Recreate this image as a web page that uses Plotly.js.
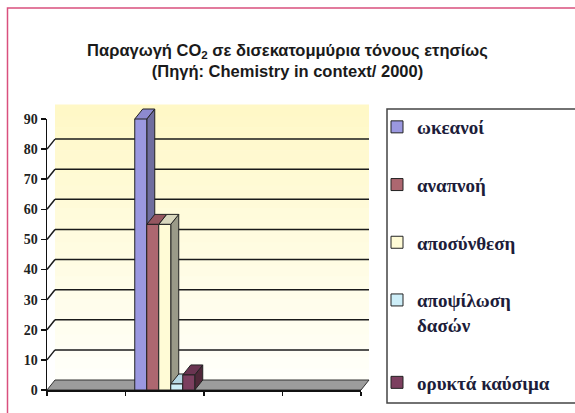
<!DOCTYPE html>
<html>
<head>
<meta charset="utf-8">
<script src="https://cdn.plot.ly/plotly-3.0.1.min.js"></script>
<style>
html,body{margin:0;padding:0;background:#fff;}
#chart{width:575px;height:413px;}
</style>
</head>
<body>
<div id="chart"></div>
<script>
// ---- data ----
const categories = ['A', 'B', 'C', 'D'];
const dataCategory = 'B';
const seriesNames = ['ωκεανοί', 'αναπνοή', 'αποσύνθεση', 'αποψίλωση<br>δασών', 'ορυκτά καύσιμα'];
const seriesValues = [90, 55, 55, 2, 5];
const yTicks = [0, 10, 20, 30, 40, 50, 60, 70, 80, 90];
const titleText = 'Παραγωγή CO<sub>2</sub> σε δισεκατομμύρια τόνους ετησίως<br>(Πηγή: Chemistry in context/ 2000)';

// ---- styles ----
const frontColors = ['#9b98e0', '#ad6770', '#fffbd6', '#cdeef8', '#7c3f5f'];
const topColors   = ['#8d8ad0', '#955660', '#d9d7be', '#b6d8e4', '#6a3551'];
const sideColors  = ['#6f6d9e', '#7f4a52', '#9a9a88', '#8fb0ba', '#502839'];

const W = 575, H = 413;
const M = {l: 47, r: 214, t: 119, b: 23};
const PW = W - M.l - M.r, PH = H - M.t - M.b;
const yMax = 90;
const bargap = 0.236;
const depthX = 8, depthY = 10;
const dxf = depthX / PW, dyf = depthY / PH;
const fx = px => (px - M.l) / PW;
const fy = py => (H - M.b - py) / PH;

const traces = seriesNames.map((name, i) => ({
  type: 'bar',
  name: '<b>' + name.split('<br>').join('</b><br><b>') + '</b>',
  x: categories,
  y: categories.map(c => c === dataCategory ? seriesValues[i] : null),
  marker: {color: frontColors[i], line: {color: '#222', width: 1}},
  legendgroup: 'g' + i,
  hoverinfo: 'skip'
}));

const shapes = [];
// back wall with gradient bands
const bands = 24;
for (let k = 0; k < bands; k++) {
  const t0 = k / bands, t1 = (k + 1) / bands;
  const t = (k + 0.5) / bands;
  const g = Math.round(255 - 7 * t);
  const b = Math.round(250 - 52 * t);
  shapes.push({type: 'rect', xref: 'paper', yref: 'paper', layer: 'below',
    x0: dxf, x1: 1 + dxf, y0: dyf + t0 * (1 + 0.015), y1: dyf + t1 * (1 + 0.015) + 0.002,
    fillcolor: `rgb(255,${g},${b})`, line: {width: 0}});
}
// floor
shapes.push({type: 'path', xref: 'paper', yref: 'paper', layer: 'below',
  path: `M 0,0 L 1,0 L ${1 + dxf},${dyf} L ${dxf},${dyf} Z`,
  fillcolor: '#9c9c9c', line: {color: '#333', width: 1}});
// gridlines on wall + diagonal side lines
yTicks.filter(v => v > 0 && v < yMax).forEach(v => {
  const yf = v / yMax;
  shapes.push({type: 'line', xref: 'paper', yref: 'paper', layer: 'below',
    x0: dxf, x1: 1 + dxf, y0: yf + dyf, y1: yf + dyf, line: {color: '#1a1a1a', width: 1.5}});
  shapes.push({type: 'line', xref: 'paper', yref: 'paper', layer: 'below',
    x0: 0, x1: dxf, y0: yf, y1: yf + dyf, line: {color: '#1a1a1a', width: 1.5}});
});
// 3D sides and tops of bars (computed from the data)
const nS = seriesNames.length;
const catIdx = categories.indexOf(dataCategory);
const catW = 1 / categories.length;
const groupW = catW * (1 - bargap);
const barW = groupW / nS;
const groupLeft = (catIdx + 0.5) * catW - groupW / 2;
seriesValues.forEach((v, i) => {
  const L = groupLeft + i * barW, R = L + barW, T = v / yMax;
  shapes.push({type: 'path', xref: 'paper', yref: 'paper', layer: 'below',
    path: `M ${R},0 L ${R + dxf},${dyf} L ${R + dxf},${T + dyf} L ${R},${T} Z`,
    fillcolor: sideColors[i], line: {color: '#222', width: 1}});
  shapes.push({type: 'path', xref: 'paper', yref: 'paper', layer: 'below',
    path: `M ${L},${T} L ${R},${T} L ${R + dxf},${T + dyf} L ${L + dxf},${T + dyf} Z`,
    fillcolor: topColors[i], line: {color: '#222', width: 1}});
});
// legend frame
shapes.push({type: 'rect', xref: 'paper', yref: 'paper', layer: 'above',
  x0: fx(387), x1: fx(590), y0: fy(403), y1: fy(109), line: {color: '#444', width: 1.5}});
// outer pink frame
shapes.push({type: 'path', xref: 'paper', yref: 'paper', layer: 'above',
  path: `M ${fx(600)},${fy(8)} L ${fx(7.5)},${fy(8)} L ${fx(7.5)},${fy(420)}`,
  line: {color: '#d9507e', width: 1.5}});

const layout = {
  width: W, height: H,
  margin: M,
  paper_bgcolor: '#ffffff',
  plot_bgcolor: 'rgba(0,0,0,0)',
  barmode: 'group',
  bargap: bargap,
  bargroupgap: 0,
  title: {
    text: titleText,
    font: {family: 'Liberation Sans, Arial, sans-serif', size: 16.5, color: '#1a1a1a', weight: 'bold'},
    xref: 'container', x: 0.5, xanchor: 'center',
    yref: 'container', y: 1 - 56 / H, yanchor: 'top'
  },
  xaxis: {
    type: 'category', categoryorder: 'array', categoryarray: categories,
    range: [-0.5, categories.length - 0.5],
    showline: true, linecolor: '#111', linewidth: 1.5,
    ticks: 'outside', tickson: 'boundaries', ticklen: 4, tickcolor: '#111', tickwidth: 1.5,
    showticklabels: false, showgrid: false, zeroline: false, fixedrange: true
  },
  yaxis: {
    range: [0, yMax], tickvals: yTicks, ticktext: yTicks.map(String),
    showline: true, linecolor: '#111', linewidth: 1.5,
    ticks: 'outside', ticklen: 5, tickcolor: '#111', tickwidth: 1.5,
    tickfont: {family: 'Liberation Serif, Times New Roman, serif', size: 14, color: '#222', weight: 'bold'},
    showgrid: false, zeroline: false, fixedrange: true
  },
  showlegend: true,
  legend: {
    xref: 'container', yref: 'container',
    x: 377 / W, y: 1 - 108 / H, xanchor: 'left', yanchor: 'top',
    maxheight: 330,
    bgcolor: 'rgba(0,0,0,0)', borderwidth: 0,
    traceorder: 'grouped', tracegroupgap: 30, itemwidth: 30, valign: 'top',
    font: {family: 'Liberation Serif, DejaVu Serif, Times New Roman, serif', size: 19, color: '#1d1d3a', weight: 'bold'}
  },
  shapes: shapes
};

Plotly.newPlot('chart', traces, layout, {staticPlot: true, displayModeBar: false});
</script>
</body>
</html>
